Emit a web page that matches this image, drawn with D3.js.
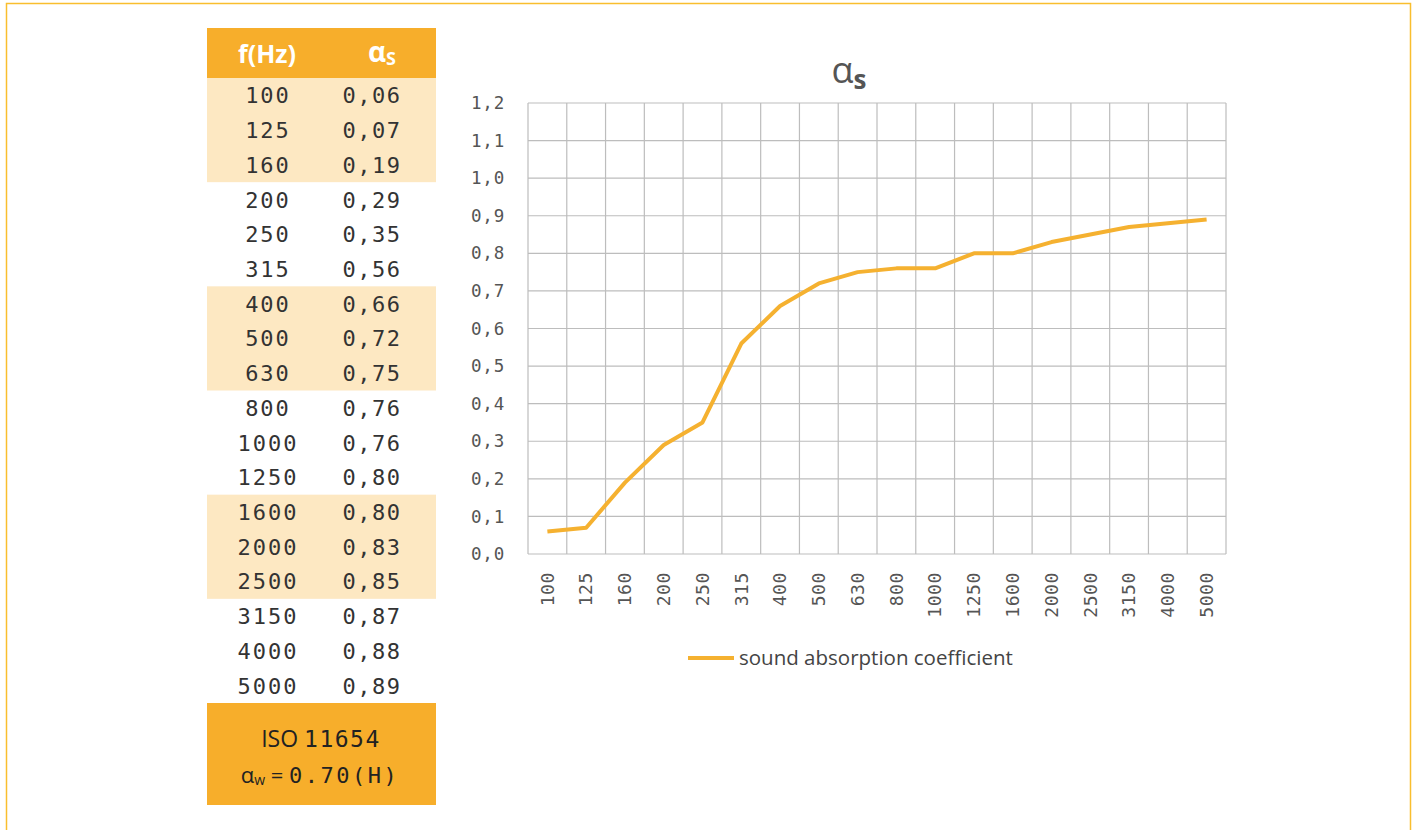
<!DOCTYPE html>
<html><head><meta charset="utf-8">
<script src="https://cdn.jsdelivr.net/npm/d3@7"></script>
<style>body{margin:0;background:#fff;}svg{display:block;}</style>
</head><body><svg id="c" width="1416" height="830"></svg>
<script>
const categories = ["100","125","160","200","250","315","400","500","630","800","1000","1250","1600","2000","2500","3150","4000","5000"];
const values = [0.06,0.07,0.19,0.29,0.35,0.56,0.66,0.72,0.75,0.76,0.76,0.80,0.80,0.83,0.85,0.87,0.88,0.89];
const valueLabels = ["0,06","0,07","0,19","0,29","0,35","0,56","0,66","0,72","0,75","0,76","0,76","0,80","0,80","0,83","0,85","0,87","0,88","0,89"];
const yTicks = [0,0.1,0.2,0.3,0.4,0.5,0.6,0.7,0.8,0.9,1.0,1.1,1.2];
const shadedGroups = [[0,3],[6,9],[12,15]];
const legendLabel = "sound absorption coefficient";

const orange = "#F7AE2B", light = "#FDE8C2", lineCol = "#F5B130";
const mono = "'DejaVu Sans Mono', 'Liberation Mono', monospace";
const sans = "'Open Sans', 'Noto Sans', sans-serif";
const svg = d3.select("#c");

// outer frame
svg.append("path").attr("d","M6.5,830 V3.5 H1410.5 V830").attr("fill","none").attr("stroke","#F9BE2E").attr("stroke-width",1.5);

// ---- table ----
const tx0 = 207, tw = 229, headTop = 28, headBot = 78, rowsEnd = 703;
const rowY = d3.scaleBand().domain(categories).range([headBot, rowsEnd]);
svg.append("rect").attr("x",tx0).attr("y",headTop).attr("width",tw).attr("height",headBot-headTop).attr("fill",orange);
shadedGroups.forEach(([a,b])=>{
  svg.append("rect").attr("x",tx0).attr("width",tw)
    .attr("y",rowY(categories[a])).attr("height",rowY(categories[b-1])+rowY.bandwidth()-rowY(categories[a]))
    .attr("fill",light);
});
svg.append("text").attr("x",267).attr("y",63).attr("text-anchor","middle").attr("fill","#fff")
  .attr("font-family",sans).attr("font-weight","bold").attr("font-size",25).text("f(Hz)");
const hs = svg.append("text").attr("x",382).attr("y",62).attr("text-anchor","middle").attr("fill","#fff")
  .attr("font-family",sans).attr("font-weight","bold").attr("font-size",28);
hs.append("tspan").text("α");
hs.append("tspan").attr("font-size",18).attr("dy",3).text("S");

const rows = svg.append("g");
categories.forEach((c,i)=>{
  const y = rowY(c)+rowY.bandwidth()/2+8;
  rows.append("text").attr("x",268).attr("y",y).attr("text-anchor","middle").attr("fill","#333")
    .attr("font-family",mono).attr("font-size",22).attr("letter-spacing",2).text(c);
  rows.append("text").attr("x",372).attr("y",y).attr("text-anchor","middle").attr("fill","#333")
    .attr("font-family",mono).attr("font-size",22).attr("letter-spacing",1.5).text(valueLabels[i]);
});

// footer
svg.append("rect").attr("x",tx0).attr("y",rowsEnd).attr("width",tw).attr("height",102).attr("fill",orange);
const f1 = svg.append("text").attr("x",321).attr("y",747).attr("text-anchor","middle").attr("fill","#222").attr("font-size",23);
f1.append("tspan").attr("font-family",sans).text("ISO ");
f1.append("tspan").attr("font-family",mono).attr("font-size",23).attr("letter-spacing",1.5).text("11654");
const f2 = svg.append("text").attr("x",320).attr("y",783).attr("text-anchor","middle").attr("fill","#222").attr("font-size",22);
f2.append("tspan").attr("font-family",sans).text("α");
f2.append("tspan").attr("font-family",sans).attr("font-size",14).attr("dy",2).text("w");
f2.append("tspan").attr("font-family",sans).attr("dy",-2).text(" = ");
f2.append("tspan").attr("font-family",mono).attr("letter-spacing",2.5).text("0.70(H)");

// ---- chart ----
const px0 = 528, px1 = 1226, py0 = 103, py1 = 554;
const x = d3.scaleBand().domain(categories).range([px0, px1]);
const y = d3.scaleLinear().domain([0,1.2]).range([py1, py0]);
const g = svg.append("g");
g.selectAll("line.h").data(yTicks).join("line").attr("class","h")
  .attr("x1",px0).attr("x2",px1).attr("y1",d=>y(d)).attr("y2",d=>y(d)).attr("stroke","#BDBDBD").attr("stroke-width",1.2);
const vb = categories.map(c=>x(c)).concat([px1]);
g.selectAll("line.v").data(vb).join("line").attr("class","v")
  .attr("x1",d=>d).attr("x2",d=>d).attr("y1",py0).attr("y2",py1).attr("stroke","#BDBDBD").attr("stroke-width",1.2);

// y labels
const yAxis = d3.axisLeft(y).tickValues(yTicks).tickSize(0).tickPadding(0)
  .tickFormat(d=>d3.format(".1f")(d).replace(".",","));
const ya = svg.append("g").attr("transform",`translate(505,0)`).call(yAxis);
ya.select(".domain").remove();
ya.selectAll("text").attr("font-family",mono).attr("font-size",17.5).attr("fill","#555").attr("letter-spacing",0.8);

// x labels
const xAxis = d3.axisBottom(x).tickSize(0).tickPadding(0);
const xa = svg.append("g").attr("transform",`translate(0,${py1})`).call(xAxis);
xa.select(".domain").remove();
xa.selectAll("text").attr("font-family",mono).attr("font-size",18).attr("fill","#555").attr("letter-spacing",0.6)
  .attr("transform","rotate(-90)").attr("text-anchor","end").attr("x",-18).attr("y",0).attr("dy","0.35em");

// line
const line = d3.line().x((d,i)=>x(categories[i])+x.bandwidth()/2).y(d=>y(d));
svg.append("path").datum(values).attr("d",line).attr("fill","none").attr("stroke",lineCol).attr("stroke-width",4).attr("stroke-linejoin","round");

// title
const t = svg.append("text").attr("x",849).attr("y",83).attr("text-anchor","middle").attr("fill","#555").attr("font-family",sans).attr("font-size",36);
t.append("tspan").text("α");
t.append("tspan").attr("font-size",26).attr("font-weight","bold").attr("dy",6).text("s");

// legend
svg.append("line").attr("x1",688).attr("x2",734).attr("y1",658).attr("y2",658).attr("stroke",lineCol).attr("stroke-width",4);
svg.append("text").attr("x",739).attr("y",665).attr("fill","#444").attr("font-family",sans).attr("font-size",20.5).text(legendLabel);
</script></body></html>
